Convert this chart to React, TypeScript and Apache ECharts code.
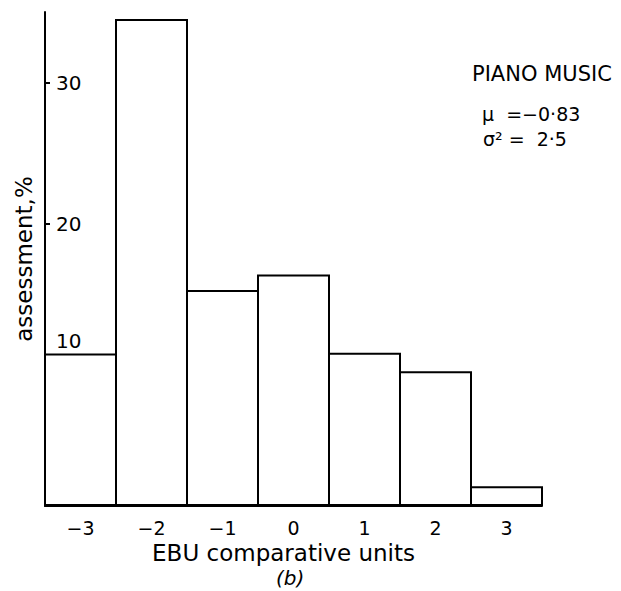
import React, { useEffect, useRef } from "react";
import * as echarts from "echarts";

const categories = ["−3", "−2", "−1", "0", "1", "2", "3"];
const assessment = [10.8, 34.5, 15.3, 16.4, 10.85, 9.55, 1.4];
const yTicks = [10, 20, 30];
const FONT = "DejaVu Sans";

export default function App() {
  const ref = useRef<HTMLDivElement>(null);
  useEffect(() => {
    const chart = echarts.init(ref.current!, undefined, { renderer: "svg" });
    chart.setOption({
      animation: false,
      backgroundColor: "#ffffff",
      grid: { left: 45, right: 79, top: 12, bottom: 85, containLabel: false },
      xAxis: {
        type: "category",
        data: categories,
        boundaryGap: true,
        name: "EBU comparative units",
        nameLocation: "middle",
        nameGap: 32,
        nameTextStyle: { fontFamily: FONT, fontSize: 23, color: "#000", padding: [0, 20, 0, 0] },
        axisLine: { show: true, lineStyle: { color: "#000", width: 2 } },
        axisTick: { show: true, inside: true, alignWithLabel: true, length: 7, lineStyle: { color: "#000", width: 2 } },
        axisLabel: { fontFamily: FONT, fontSize: 19, color: "#000", margin: 12 },
        splitLine: { show: false },
      },
      yAxis: {
        type: "value",
        min: 0,
        max: 35,
        interval: 10,
        name: "assessment,%",
        nameLocation: "middle",
        nameGap: 10,
        nameTextStyle: { fontFamily: FONT, fontSize: 23, color: "#000" },
        axisLine: { show: true, lineStyle: { color: "#000", width: 2 } },
        axisTick: { show: true, inside: true, length: 5, customValues: yTicks, lineStyle: { color: "#000", width: 2 } },
        axisLabel: {
          inside: true,
          margin: 11,
          customValues: yTicks,
          fontFamily: FONT,
          fontSize: 20,
          color: "#000",
          formatter: (v: number) => (v === 10 ? "{ten|10}" : String(v)),
          rich: { ten: { fontFamily: FONT, fontSize: 20, color: "#000", padding: [0, 0, 48, 0] } },
        },
        splitLine: { show: false },
      },
      series: [
        {
          type: "bar",
          data: assessment,
          barWidth: 73,
          itemStyle: { color: "#ffffff", borderColor: "#000", borderWidth: 2 },
          z: 1,
        },
      ],
      graphic: [
        { type: "text", left: 472, top: 63, style: { text: "PIANO MUSIC", fontFamily: FONT, fontSize: 21, fill: "#000" } },
        { type: "text", left: 482, top: 104, style: { text: "μ  =−0·83", fontFamily: FONT, fontSize: 19, lineHeight: 19, fill: "#000" } },
        { type: "text", left: 483, top: 129, style: { text: "σ² =  2·5", fontFamily: FONT, fontSize: 19, lineHeight: 19, fill: "#000" } },
        { type: "text", left: 276, top: 568, style: { text: "(b)", fontFamily: FONT, fontSize: 20, fontStyle: "italic", fill: "#000" } },
      ],
    });
    return () => chart.dispose();
  }, []);
  return <div ref={ref} style={{ width: 621, height: 591, position: "absolute", left: 0, top: 0 }} />;
}
